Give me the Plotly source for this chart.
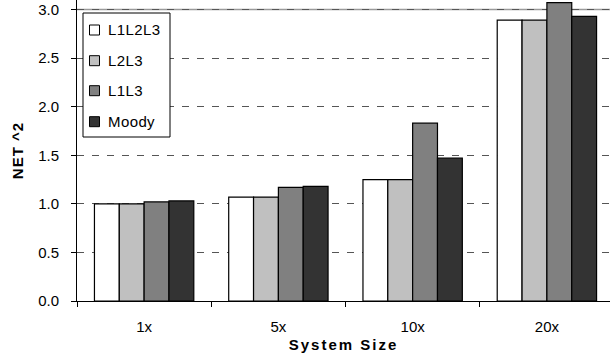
import plotly.graph_objects as go

categories = ["1x", "5x", "10x", "20x"]
series_names = ["L1L2L3", "L2L3", "L1L3", "Moody"]
l1l2l3 = [1.00, 1.07, 1.25, 2.89]
l2l3 = [1.00, 1.07, 1.25, 2.89]
l1l3 = [1.02, 1.17, 1.83, 3.07]
moody = [1.03, 1.18, 1.47, 2.93]
series_values = [l1l2l3, l2l3, l1l3, moody]
colors = ["#FFFFFF", "#C0C0C0", "#808080", "#333333"]
y_ticks = [0.0, 0.5, 1.0, 1.5, 2.0, 2.5, 3.0]

W, H = 610, 360
ML, MR, MT, MB = 77, 0, 0, 59
PW, PH = W - ML - MR, H - MT - MB
FONT = "Liberation Sans, Arial, sans-serif"

def px_x(x):
    return (x - ML) / PW

def px_y(y):
    return (H - MB - y) / PH

fig = go.Figure()
for name, vals, col in zip(series_names, series_values, colors):
    fig.add_trace(go.Bar(
        x=categories, y=vals, name=name,
        marker=dict(color=col, line=dict(color="#000000", width=1.2)),
        showlegend=False,
    ))

# reference line at top (3.0)
fig.add_shape(type="line", xref="paper", yref="y", x0=0, x1=1, y0=3.0, y1=3.0,
              line=dict(color="#9a9a9a", width=1.5), layer="below")

# legend box drawn from the series names / colours
fig.add_shape(type="rect", xref="paper", yref="paper",
              x0=px_x(83), x1=px_x(170), y0=px_y(137), y1=px_y(13),
              line=dict(color="#000000", width=1), fillcolor="#FFFFFF", layer="above")
item_y = [30, 60.7, 90.7, 121.7]
for name, col, yy in zip(series_names, colors, item_y):
    fig.add_shape(type="rect", xref="paper", yref="paper",
                  x0=px_x(89.5), x1=px_x(99.5), y0=px_y(yy + 5), y1=px_y(yy - 5),
                  line=dict(color="#000000", width=1), fillcolor=col, layer="above")
    fig.add_annotation(xref="paper", yref="paper", x=px_x(106), y=px_y(yy),
                       text=f'<span style="letter-spacing:0.4px">{name}</span>',
                       showarrow=False, xanchor="left", yanchor="middle",
                       font=dict(family=FONT, size=15, color="#000000"))

fig.update_layout(
    width=W, height=H,
    margin=dict(l=ML, r=MR, t=MT, b=MB, autoexpand=False),
    paper_bgcolor="#FFFFFF", plot_bgcolor="#FFFFFF",
    barmode="group", bargap=0.26, bargroupgap=0,
    font=dict(family=FONT, size=15, color="#000000"),
    showlegend=False,
)
fig.update_xaxes(
    type="category", range=[-0.5, 3.47], automargin=False,
    showline=True, linecolor="#000000", linewidth=1,
    ticks="outside", tickson="boundaries", ticklen=5, tickcolor="#000000",
    ticklabelstandoff=12,
    showgrid=False,
    title=dict(text='<b><span style="letter-spacing:2px">System Size</span></b>',
               font=dict(family=FONT, size=15), standoff=5),
    tickfont=dict(family=FONT, size=15),
)
fig.update_yaxes(
    range=[0, 3.098], automargin=False,
    tickvals=y_ticks, ticktext=[f"{v:.1f}" for v in y_ticks],
    ticklabeloverflow="allow",
    showline=True, linecolor="#000000", linewidth=1,
    ticks="outside", ticklen=5, tickcolor="#000000",
    ticklabelstandoff=9,
    showgrid=True, gridcolor="#555555", gridwidth=1, griddash="7px,8px",
    zeroline=False,
    title=dict(text='<b><span style="letter-spacing:1px">NET ^2</span></b>',
               font=dict(family=FONT, size=15), standoff=10),
    tickfont=dict(family=FONT, size=15),
)

fig.write_html(
    "out.html",
    config={"displayModeBar": False},
    post_script="document.body.style.margin='0';document.body.style.overflow='hidden';",
)
